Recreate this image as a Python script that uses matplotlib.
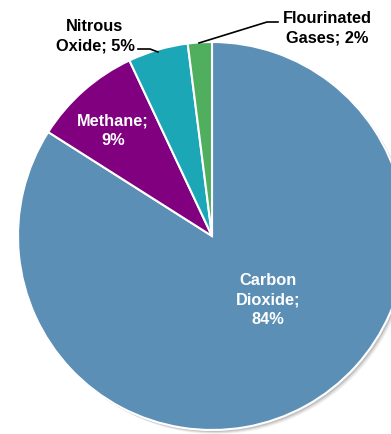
import matplotlib.pyplot as plt
from matplotlib.patches import Circle

# share of emissions by gas
gases = ['Carbon Dioxide', 'Methane', 'Nitrous Oxide', 'Flourinated Gases']
shares = [84, 9, 5, 2]
colors = ['#5b8fb6', '#800080', '#1ba7b6', '#4faf5f']

plt.rcParams['font.family'] = ['Liberation Sans', 'DejaVu Sans']

fig = plt.figure(figsize=(3.91, 4.35), dpi=100)
ax = fig.add_axes([0, 0, 1, 1])

# pie centre at (212, 237) px, radius 194 px
r = 194.0
cx, cy = 212.0, 237.0

# soft shadow
for k, a in [(4, 0.06), (3, 0.08), (2, 0.12)]:
    ax.add_patch(Circle((k / r, -k / r), 1.0, color='#000000', alpha=a, lw=0, zorder=0))

wedges, _ = ax.pie(shares, colors=colors, startangle=90, counterclock=False,
                   radius=1.0, wedgeprops=dict(edgecolor='white', linewidth=1.5),
                   frame=True)
for w in wedges:
    w.set_zorder(2)
ax.set_xlim(-cx / r, (391 - cx) / r)
ax.set_ylim(-(435 - cy) / r, cy / r)
ax.set_aspect('auto')
ax.axis('off')

def px(x, y):
    return ((x - cx) / r, (cy - y) / r)

fs = 11.8
ls = 1.4
ax.text(*px(268, 300), 'Carbon\nDioxide;\n84%', color='white', fontsize=fs,
        fontweight='bold', ha='center', va='center', linespacing=ls, zorder=3)
ax.text(*px(113, 131), 'Methane;\n9%', color='white', fontsize=fs,
        fontweight='bold', ha='center', va='center', linespacing=ls, zorder=3)
ax.text(*px(95, 36), 'Nitrous\nOxide; 5%', color='black', fontsize=fs,
        fontweight='bold', ha='center', va='center', linespacing=ls, zorder=3)
ax.text(*px(327, 28), 'Flourinated\nGases; 2%', color='black', fontsize=fs,
        fontweight='bold', ha='center', va='center', linespacing=ls, zorder=3)

# leader lines
x1, y1 = zip(px(138, 50), px(150, 50), px(158, 53))
ax.plot(x1, y1, color='black', lw=1.2, zorder=3)
x2, y2 = zip(px(278, 23), px(267, 23), px(199, 44))
ax.plot(x2, y2, color='black', lw=1.2, zorder=3)

fig.savefig('out.png', dpi=100)
